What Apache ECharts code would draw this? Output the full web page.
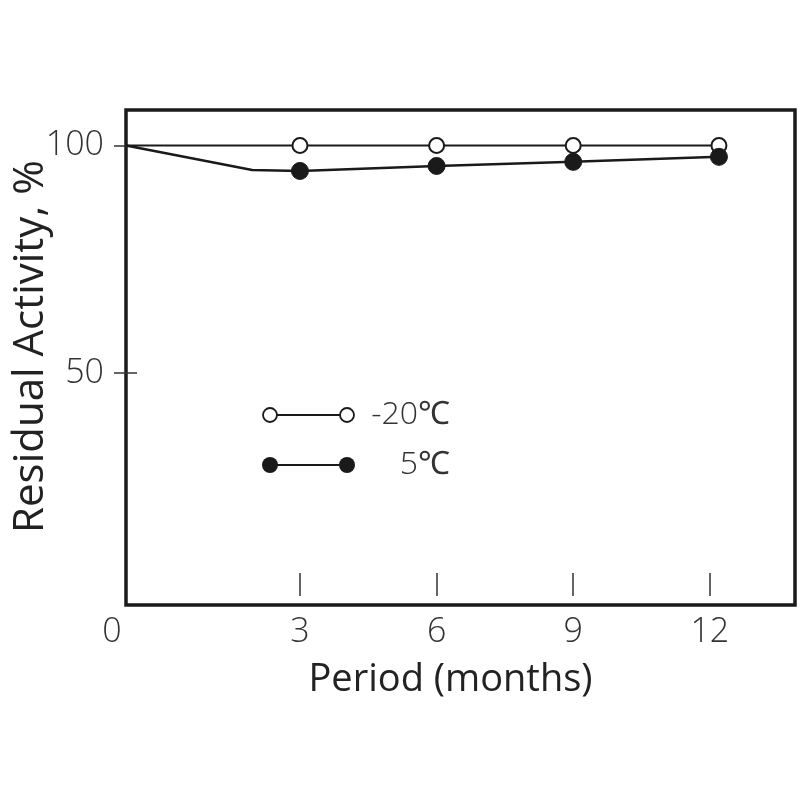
<!DOCTYPE html>
<html>
<head>
<meta charset="utf-8">
<script src="https://cdn.jsdelivr.net/npm/echarts@6/dist/echarts.min.js"></script>
<style>
  html, body { margin: 0; padding: 0; background: #fff; }
  #chart { width: 800px; height: 800px; }
</style>
</head>
<body>
<div id="chart"></div>
<script>
// data
const periodLabels = ['0', '3', '6', '9', '12'];
// the origin is drawn at the corner of the box, so "0" sits at the axis start
const periodPos = [-0.82, 3, 6, 9, 12.2];
const minus20 = [100, 100, 100, 100, 100];
const plus5 = [100, 94.4, 95.5, 96.4, 97.5];
// unmarked bend in the 5 ℃ line between 0 and 3 months
const bendPos = 1.95;
const bendValue = 94.6;
const yTicks = [50, 100];
const xTicks = [3, 6, 9, 12];

const font = 'Open Sans';

function points(values) {
  return values.map((v, i) => ({
    value: [periodPos[i], v],
    symbol: i === 0 ? 'none' : 'circle'
  }));
}

const cold = points(minus20);
const warm = points(plus5);
warm.splice(1, 0, {value: [bendPos, bendValue], symbol: 'none'});

const chart = echarts.init(document.getElementById('chart'));

chart.setOption({
  animation: false,
  textStyle: {fontFamily: font, color: '#222'},
  grid: {
    left: 126, right: 5, top: 110, bottom: 195,
    outerBoundsMode: 'none',
    containLabel: false,
    show: true, borderColor: '#1a1a1a', borderWidth: 3.5
  },
  xAxis: [{
    type: 'value',
    min: periodPos[0], max: 13.87,
    axisLine: {show: false, onZero: false},
    splitLine: {show: false},
    axisTick: {show: false},
    axisLabel: {
      customValues: [periodPos[0]].concat(xTicks),
      formatter: v => v < 0 ? '{z|' + periodLabels[0] + '}' : String(v),
      fontSize: 34, fontWeight: 300, color: '#333', margin: 10,
      rich: {z: {fontSize: 34, fontWeight: 300, color: '#333', padding: [0, 28, 0, 0]}}
    },
    name: 'Period (months)',
    nameLocation: 'middle',
    nameGap: 56,
    nameTextStyle: {fontSize: 38, color: '#222', padding: [0, 20, 0, 0]}
  }, {
    type: 'value',
    position: 'bottom',
    offset: -9,
    min: periodPos[0], max: 13.87,
    axisLine: {show: false, onZero: false},
    splitLine: {show: false},
    axisLabel: {show: false},
    axisTick: {
      show: true, inside: true, length: 23,
      customValues: xTicks,
      lineStyle: {color: '#333', width: 1.5}
    }
  }],
  yAxis: [{
    type: 'value',
    position: 'left',
    min: -1, max: 107.8,
    axisLine: {show: false, onZero: false},
    splitLine: {show: false},
    axisTick: {
      show: true, length: 12, customValues: yTicks,
      lineStyle: {color: '#333', width: 1.5}
    },
    axisLabel: {
      customValues: yTicks,
      fontSize: 34, fontWeight: 300, color: '#333', margin: 22
    },
    name: 'Residual Activity, %',
    nameLocation: 'middle',
    nameMoveOverlap: false,
    nameGap: 74,
    nameTextStyle: {fontSize: 42, color: '#222', padding: [0, 0, 0, 22]}
  }, {
    type: 'value',
    position: 'left',
    offset: 0,
    min: -1, max: 107.8,
    axisLine: {show: false, onZero: false},
    splitLine: {show: false},
    axisLabel: {show: false},
    axisTick: {
      show: true, inside: true, length: 11, customValues: yTicks,
      lineStyle: {color: '#333', width: 1.5}
    }
  }],
  series: [{
    name: '-20℃',
    type: 'line',
    data: cold,
    symbolSize: 15,
    lineStyle: {color: '#1a1a1a', width: 2},
    itemStyle: {color: '#fff', borderColor: '#1a1a1a', borderWidth: 2},
    z: 3
  }, {
    name: '5℃',
    type: 'line',
    data: warm,
    symbolSize: 17,
    lineStyle: {color: '#1a1a1a', width: 2.5},
    itemStyle: {color: '#1a1a1a', borderColor: '#1a1a1a', borderWidth: 1},
    z: 4
  }],
  graphic: [
    // key: circle - line - circle, then the label
    {type: 'line', shape: {x1: 270, y1: 415, x2: 347, y2: 415}, style: {stroke: '#1a1a1a', lineWidth: 2}},
    {type: 'circle', shape: {cx: 270, cy: 415, r: 7}, style: {fill: '#fff', stroke: '#1a1a1a', lineWidth: 1.8}},
    {type: 'circle', shape: {cx: 347, cy: 415, r: 7}, style: {fill: '#fff', stroke: '#1a1a1a', lineWidth: 1.8}},
    {type: 'text', x: 450, y: 415, style: {text: '-20℃', font: '300 32px "Open Sans"', fill: '#333', align: 'right', verticalAlign: 'middle'}},
    {type: 'line', shape: {x1: 270, y1: 465, x2: 347, y2: 465}, style: {stroke: '#1a1a1a', lineWidth: 2}},
    {type: 'circle', shape: {cx: 270, cy: 465, r: 8}, style: {fill: '#1a1a1a'}},
    {type: 'circle', shape: {cx: 347, cy: 465, r: 8}, style: {fill: '#1a1a1a'}},
    {type: 'text', x: 450, y: 465, style: {text: '5℃', font: '300 32px "Open Sans"', fill: '#333', align: 'right', verticalAlign: 'middle'}}
  ]
});
</script>
</body>
</html>
